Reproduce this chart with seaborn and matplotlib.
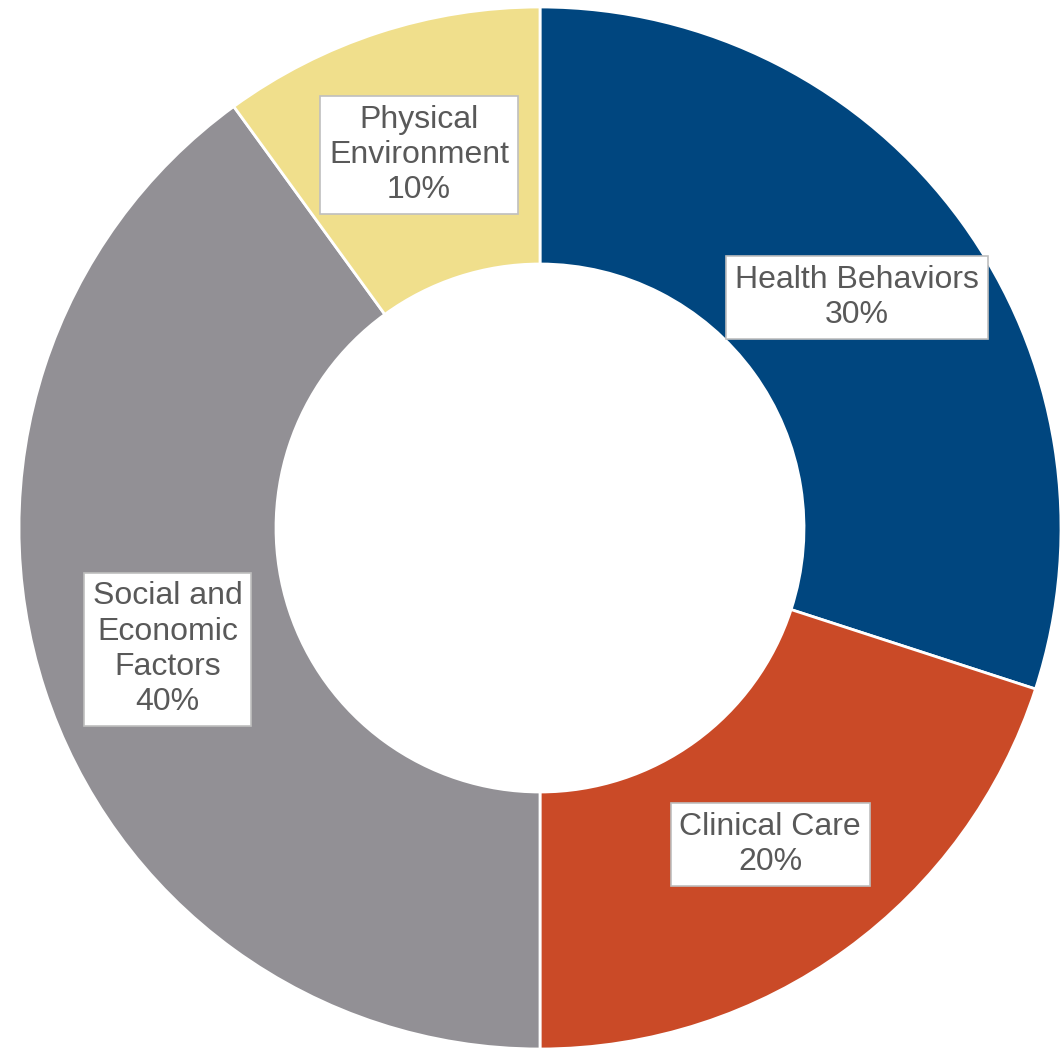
import numpy as np
import seaborn as sns
import matplotlib.pyplot as plt

categories = ['Health Behaviors', 'Clinical Care', 'Social and\nEconomic\nFactors', 'Physical\nEnvironment']
shares = [30, 20, 40, 10]
colors = ['#00467F', '#CA4A27', '#929095', '#F0DF8C']

sns.set_theme(style='white')
plt.rcParams['font.family'] = ['Liberation Sans', 'DejaVu Sans']

fig = plt.figure(figsize=(10.61, 10.49), dpi=100)
ax = fig.add_axes([0, 0, 1, 1])

# pie in pixel-like units so the ring lines up with the reference
R = 521
wedges, _ = ax.pie(shares, colors=colors, startangle=90, counterclock=False,
                   radius=R, center=(540, 521),
                   wedgeprops=dict(width=257, edgecolor='white', linewidth=2))

for w, name, val in zip(wedges, categories, shares):
    mid = np.deg2rad((w.theta1 + w.theta2) / 2)
    x = 540 + 0.752 * R * np.cos(mid)
    y = 521 + 0.752 * R * np.sin(mid)
    ax.text(x, y, f"{name}\n{val}%", ha='center', va='center', fontsize=23,
            color='#595959', linespacing=1.22,
            bbox=dict(boxstyle='square,pad=0.28', facecolor='white',
                      edgecolor='#BFBFBF', linewidth=1.2))

ax.set_xlim(0, 1061)
ax.set_ylim(0, 1049)
ax.set_aspect('equal')
ax.axis('off')

fig.savefig('out.png', dpi=100)
